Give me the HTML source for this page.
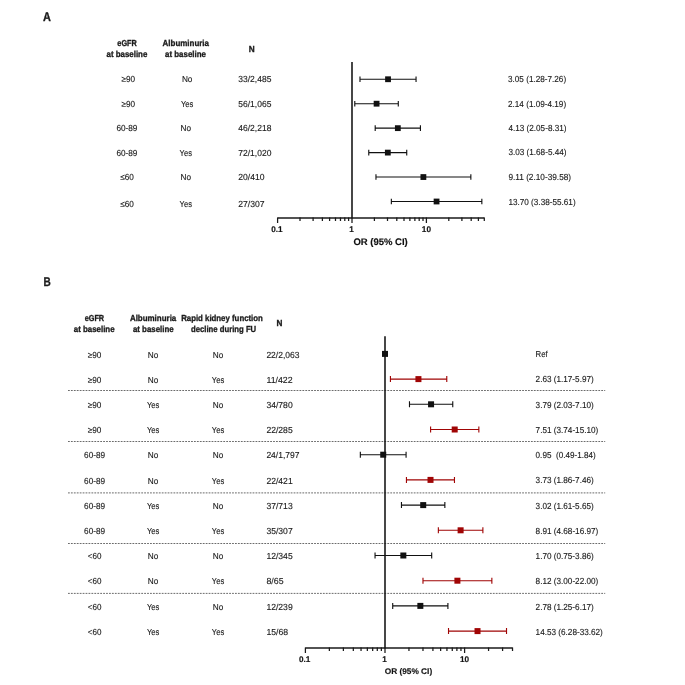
<!DOCTYPE html>
<html><head><meta charset="utf-8"><title>Forest plot</title>
<style>
html,body{margin:0;padding:0;background:#fff}
svg{display:block;font-family:"Liberation Sans",sans-serif;text-rendering:geometricPrecision}
</style></head><body>
<svg width="685" height="685" viewBox="0 0 685 685">
<rect width="685" height="685" fill="#fff"/>
<text x="43.00" y="20.60" text-anchor="start" font-size="12.61" font-weight="bold" fill="#1a1a1a" stroke="#1a1a1a" stroke-width="0.32" textLength="7.88" lengthAdjust="spacingAndGlyphs">A</text>
<text x="127.10" y="46.40" text-anchor="middle" font-size="8.73" font-weight="bold" fill="#1a1a1a" stroke="#1a1a1a" stroke-width="0.32" textLength="19.46" lengthAdjust="spacingAndGlyphs">eGFR</text>
<text x="126.90" y="56.80" text-anchor="middle" font-size="8.73" font-weight="bold" fill="#1a1a1a" stroke="#1a1a1a" stroke-width="0.32" textLength="40.79" lengthAdjust="spacingAndGlyphs">at baseline</text>
<text x="185.80" y="46.20" text-anchor="middle" font-size="8.73" font-weight="bold" fill="#1a1a1a" stroke="#1a1a1a" stroke-width="0.32" textLength="46.39" lengthAdjust="spacingAndGlyphs">Albuminuria</text>
<text x="185.50" y="56.80" text-anchor="middle" font-size="8.73" font-weight="bold" fill="#1a1a1a" stroke="#1a1a1a" stroke-width="0.32" textLength="40.79" lengthAdjust="spacingAndGlyphs">at baseline</text>
<text x="251.70" y="51.70" text-anchor="middle" font-size="8.73" font-weight="bold" fill="#1a1a1a" stroke="#1a1a1a" stroke-width="0.32" textLength="5.93" lengthAdjust="spacingAndGlyphs">N</text>
<path d="M352.0 62V218.5" stroke="#111" stroke-width="1.55" fill="none"/>
<text x="128.20" y="81.70" text-anchor="middle" font-size="8.73" fill="#1a1a1a" stroke="#1a1a1a" stroke-width="0.12" textLength="13.61" lengthAdjust="spacingAndGlyphs">≥90</text>
<text x="187.20" y="81.70" text-anchor="middle" font-size="8.73" fill="#1a1a1a" stroke="#1a1a1a" stroke-width="0.12" textLength="10.56" lengthAdjust="spacingAndGlyphs">No</text>
<text x="238.30" y="81.70" text-anchor="start" font-size="8.73" fill="#1a1a1a" stroke="#1a1a1a" stroke-width="0.12" textLength="33.10" lengthAdjust="spacingAndGlyphs">33/2,485</text>
<text x="508.00" y="81.70" text-anchor="start" font-size="8.73" fill="#1a1a1a" stroke="#1a1a1a" stroke-width="0.12" textLength="58.11" lengthAdjust="spacingAndGlyphs">3.05 (1.28-7.26)</text>
<path d="M359.98 79.25H416.05M359.98 76.45v5.6M416.05 76.45v5.6" stroke="#111" stroke-width="1.12" fill="none"/>
<rect x="385.13" y="76.35" width="5.8" height="5.8" fill="#111"/>
<text x="128.20" y="106.70" text-anchor="middle" font-size="8.73" fill="#1a1a1a" stroke="#1a1a1a" stroke-width="0.12" textLength="13.61" lengthAdjust="spacingAndGlyphs">≥90</text>
<text x="187.10" y="106.70" text-anchor="middle" font-size="8.73" fill="#1a1a1a" stroke="#1a1a1a" stroke-width="0.12" textLength="12.38" lengthAdjust="spacingAndGlyphs">Yes</text>
<text x="238.30" y="106.70" text-anchor="start" font-size="8.73" fill="#1a1a1a" stroke="#1a1a1a" stroke-width="0.12" textLength="33.10" lengthAdjust="spacingAndGlyphs">56/1,065</text>
<text x="508.00" y="106.70" text-anchor="start" font-size="8.73" fill="#1a1a1a" stroke="#1a1a1a" stroke-width="0.12" textLength="58.11" lengthAdjust="spacingAndGlyphs">2.14 (1.09-4.19)</text>
<path d="M354.78 103.70H398.29M354.78 100.90v5.6M398.29 100.90v5.6" stroke="#111" stroke-width="1.12" fill="none"/>
<rect x="373.68" y="100.80" width="5.8" height="5.8" fill="#111"/>
<text x="126.90" y="130.80" text-anchor="middle" font-size="8.73" fill="#1a1a1a" stroke="#1a1a1a" stroke-width="0.12" textLength="21.01" lengthAdjust="spacingAndGlyphs">60-89</text>
<text x="185.80" y="130.80" text-anchor="middle" font-size="8.73" fill="#1a1a1a" stroke="#1a1a1a" stroke-width="0.12" textLength="10.56" lengthAdjust="spacingAndGlyphs">No</text>
<text x="238.30" y="130.80" text-anchor="start" font-size="8.73" fill="#1a1a1a" stroke="#1a1a1a" stroke-width="0.12" textLength="33.10" lengthAdjust="spacingAndGlyphs">46/2,218</text>
<text x="508.40" y="130.90" text-anchor="start" font-size="8.73" fill="#1a1a1a" stroke="#1a1a1a" stroke-width="0.12" textLength="58.11" lengthAdjust="spacingAndGlyphs">4.13 (2.05-8.31)</text>
<path d="M375.19 128.15H420.42M375.19 125.35v5.6M420.42 125.35v5.6" stroke="#111" stroke-width="1.12" fill="none"/>
<rect x="394.93" y="125.25" width="5.8" height="5.8" fill="#111"/>
<text x="126.90" y="155.50" text-anchor="middle" font-size="8.73" fill="#1a1a1a" stroke="#1a1a1a" stroke-width="0.12" textLength="21.01" lengthAdjust="spacingAndGlyphs">60-89</text>
<text x="185.80" y="155.50" text-anchor="middle" font-size="8.73" fill="#1a1a1a" stroke="#1a1a1a" stroke-width="0.12" textLength="12.38" lengthAdjust="spacingAndGlyphs">Yes</text>
<text x="238.30" y="155.50" text-anchor="start" font-size="8.73" fill="#1a1a1a" stroke="#1a1a1a" stroke-width="0.12" textLength="33.10" lengthAdjust="spacingAndGlyphs">72/1,020</text>
<text x="508.40" y="155.10" text-anchor="start" font-size="8.73" fill="#1a1a1a" stroke="#1a1a1a" stroke-width="0.12" textLength="58.11" lengthAdjust="spacingAndGlyphs">3.03 (1.68-5.44)</text>
<path d="M368.76 152.60H406.73M368.76 149.80v5.6M406.73 149.80v5.6" stroke="#111" stroke-width="1.12" fill="none"/>
<rect x="384.92" y="149.70" width="5.8" height="5.8" fill="#111"/>
<text x="127.10" y="179.90" text-anchor="middle" font-size="8.73" fill="#1a1a1a" stroke="#1a1a1a" stroke-width="0.12" textLength="13.61" lengthAdjust="spacingAndGlyphs">≤60</text>
<text x="185.80" y="179.90" text-anchor="middle" font-size="8.73" fill="#1a1a1a" stroke="#1a1a1a" stroke-width="0.12" textLength="10.56" lengthAdjust="spacingAndGlyphs">No</text>
<text x="238.30" y="179.90" text-anchor="start" font-size="8.73" fill="#1a1a1a" stroke="#1a1a1a" stroke-width="0.12" textLength="26.29" lengthAdjust="spacingAndGlyphs">20/410</text>
<text x="508.40" y="179.70" text-anchor="start" font-size="8.73" fill="#1a1a1a" stroke="#1a1a1a" stroke-width="0.12" textLength="62.68" lengthAdjust="spacingAndGlyphs">9.11 (2.10-39.58)</text>
<path d="M375.97 177.05H470.85M375.97 174.25v5.6M470.85 174.25v5.6" stroke="#111" stroke-width="1.12" fill="none"/>
<rect x="420.49" y="174.15" width="5.8" height="5.8" fill="#111"/>
<text x="127.10" y="206.90" text-anchor="middle" font-size="8.73" fill="#1a1a1a" stroke="#1a1a1a" stroke-width="0.12" textLength="13.61" lengthAdjust="spacingAndGlyphs">≤60</text>
<text x="185.80" y="206.90" text-anchor="middle" font-size="8.73" fill="#1a1a1a" stroke="#1a1a1a" stroke-width="0.12" textLength="12.38" lengthAdjust="spacingAndGlyphs">Yes</text>
<text x="238.30" y="206.90" text-anchor="start" font-size="8.73" fill="#1a1a1a" stroke="#1a1a1a" stroke-width="0.12" textLength="26.29" lengthAdjust="spacingAndGlyphs">27/307</text>
<text x="508.40" y="205.20" text-anchor="start" font-size="8.73" fill="#1a1a1a" stroke="#1a1a1a" stroke-width="0.12" textLength="67.24" lengthAdjust="spacingAndGlyphs">13.70 (3.38-55.61)</text>
<path d="M391.35 201.50H481.84M391.35 198.70v5.6M481.84 198.70v5.6" stroke="#111" stroke-width="1.12" fill="none"/>
<rect x="433.67" y="198.60" width="5.8" height="5.8" fill="#111"/>
<path d="M277.60 218.00H484.29" stroke="#1a1a1a" stroke-width="1.3" fill="none"/>
<path d="M277.60 217.40v5.50M300.00 217.40v3.70M313.10 217.40v3.70M322.39 217.40v3.70M329.60 217.40v3.70M335.49 217.40v3.70M340.48 217.40v3.70M344.79 217.40v3.70M348.60 217.40v3.70M352.00 217.40v5.50M374.40 217.40v3.70M387.50 217.40v3.70M396.79 217.40v3.70M404.00 217.40v3.70M409.89 217.40v3.70M414.88 217.40v3.70M419.19 217.40v3.70M423.00 217.40v3.70M426.40 217.40v5.50M448.80 217.40v3.70M461.90 217.40v3.70M471.19 217.40v3.70M478.40 217.40v3.70M484.29 217.40v3.70" stroke="#1a1a1a" stroke-width="1.25" fill="none"/>
<text x="276.90" y="232.00" text-anchor="middle" font-size="8.20" font-weight="bold" fill="#111" stroke="#111" stroke-width="0.15">0.1</text>
<text x="351.60" y="232.00" text-anchor="middle" font-size="8.20" font-weight="bold" fill="#111" stroke="#111" stroke-width="0.15">1</text>
<text x="426.40" y="232.00" text-anchor="middle" font-size="8.20" font-weight="bold" fill="#111" stroke="#111" stroke-width="0.15">10</text>
<text x="353.40" y="244.60" text-anchor="start" font-size="9.50" font-weight="bold" fill="#111" stroke="#111" stroke-width="0.15">OR (95% CI)</text>
<text x="43.40" y="285.80" text-anchor="start" font-size="12.61" font-weight="bold" fill="#1a1a1a" stroke="#1a1a1a" stroke-width="0.32" textLength="7.29" lengthAdjust="spacingAndGlyphs">B</text>
<text x="94.40" y="320.90" text-anchor="middle" font-size="8.73" font-weight="bold" fill="#1a1a1a" stroke="#1a1a1a" stroke-width="0.32" textLength="19.46" lengthAdjust="spacingAndGlyphs">eGFR</text>
<text x="94.20" y="331.50" text-anchor="middle" font-size="8.73" font-weight="bold" fill="#1a1a1a" stroke="#1a1a1a" stroke-width="0.32" textLength="40.79" lengthAdjust="spacingAndGlyphs">at baseline</text>
<text x="153.10" y="320.90" text-anchor="middle" font-size="8.73" font-weight="bold" fill="#1a1a1a" stroke="#1a1a1a" stroke-width="0.32" textLength="46.39" lengthAdjust="spacingAndGlyphs">Albuminuria</text>
<text x="153.30" y="331.50" text-anchor="middle" font-size="8.73" font-weight="bold" fill="#1a1a1a" stroke="#1a1a1a" stroke-width="0.32" textLength="40.79" lengthAdjust="spacingAndGlyphs">at baseline</text>
<text x="222.00" y="320.90" text-anchor="middle" font-size="8.73" font-weight="bold" fill="#1a1a1a" stroke="#1a1a1a" stroke-width="0.32" textLength="81.73" lengthAdjust="spacingAndGlyphs">Rapid kidney function</text>
<text x="223.60" y="331.50" text-anchor="middle" font-size="8.73" font-weight="bold" fill="#1a1a1a" stroke="#1a1a1a" stroke-width="0.32" textLength="65.16" lengthAdjust="spacingAndGlyphs">decline during FU</text>
<text x="279.40" y="325.70" text-anchor="middle" font-size="8.73" font-weight="bold" fill="#1a1a1a" stroke="#1a1a1a" stroke-width="0.32" textLength="5.93" lengthAdjust="spacingAndGlyphs">N</text>
<path d="M68 390.50H605.2" stroke="#5a5a5a" stroke-width="0.9" stroke-dasharray="1.8 1.13" fill="none"/>
<path d="M68 441.50H605.2" stroke="#5a5a5a" stroke-width="0.9" stroke-dasharray="1.8 1.13" fill="none"/>
<path d="M68 492.90H605.2" stroke="#5a5a5a" stroke-width="0.9" stroke-dasharray="1.8 1.13" fill="none"/>
<path d="M68 543.50H605.2" stroke="#5a5a5a" stroke-width="0.9" stroke-dasharray="1.8 1.13" fill="none"/>
<path d="M68 593.40H605.2" stroke="#5a5a5a" stroke-width="0.9" stroke-dasharray="1.8 1.13" fill="none"/>
<path d="M385.0 336.3V648.5" stroke="#111" stroke-width="1.55" fill="none"/>
<text x="94.60" y="357.70" text-anchor="middle" font-size="8.73" fill="#1a1a1a" stroke="#1a1a1a" stroke-width="0.12" textLength="13.61" lengthAdjust="spacingAndGlyphs">≥90</text>
<text x="153.10" y="357.70" text-anchor="middle" font-size="8.73" fill="#1a1a1a" stroke="#1a1a1a" stroke-width="0.12" textLength="10.56" lengthAdjust="spacingAndGlyphs">No</text>
<text x="218.00" y="357.70" text-anchor="middle" font-size="8.73" fill="#1a1a1a" stroke="#1a1a1a" stroke-width="0.12" textLength="10.56" lengthAdjust="spacingAndGlyphs">No</text>
<text x="266.40" y="357.70" text-anchor="start" font-size="8.73" fill="#1a1a1a" stroke="#1a1a1a" stroke-width="0.12" textLength="33.10" lengthAdjust="spacingAndGlyphs">22/2,063</text>
<text x="535.60" y="357.25" text-anchor="start" font-size="8.73" fill="#1a1a1a" stroke="#1a1a1a" stroke-width="0.12" textLength="12.11" lengthAdjust="spacingAndGlyphs">Ref</text>
<rect x="382.00" y="350.90" width="6.0" height="6.0" fill="#111"/>
<text x="94.60" y="382.88" text-anchor="middle" font-size="8.73" fill="#1a1a1a" stroke="#1a1a1a" stroke-width="0.12" textLength="13.61" lengthAdjust="spacingAndGlyphs">≥90</text>
<text x="153.10" y="382.88" text-anchor="middle" font-size="8.73" fill="#1a1a1a" stroke="#1a1a1a" stroke-width="0.12" textLength="10.56" lengthAdjust="spacingAndGlyphs">No</text>
<text x="218.00" y="382.88" text-anchor="middle" font-size="8.73" fill="#1a1a1a" stroke="#1a1a1a" stroke-width="0.12" textLength="12.38" lengthAdjust="spacingAndGlyphs">Yes</text>
<text x="266.40" y="382.88" text-anchor="start" font-size="8.73" fill="#1a1a1a" stroke="#1a1a1a" stroke-width="0.12" textLength="26.29" lengthAdjust="spacingAndGlyphs">11/422</text>
<text x="535.60" y="382.49" text-anchor="start" font-size="8.73" fill="#1a1a1a" stroke="#1a1a1a" stroke-width="0.12" textLength="58.11" lengthAdjust="spacingAndGlyphs">2.63 (1.17-5.97)</text>
<path d="M390.43 379.10H446.77M390.43 376.10v6.0M446.77 376.10v6.0" stroke="#a00505" stroke-width="1.12" fill="none"/>
<rect x="415.43" y="376.10" width="6.0" height="6.0" fill="#a00505"/>
<text x="94.60" y="408.06" text-anchor="middle" font-size="8.73" fill="#1a1a1a" stroke="#1a1a1a" stroke-width="0.12" textLength="13.61" lengthAdjust="spacingAndGlyphs">≥90</text>
<text x="153.10" y="408.06" text-anchor="middle" font-size="8.73" fill="#1a1a1a" stroke="#1a1a1a" stroke-width="0.12" textLength="12.38" lengthAdjust="spacingAndGlyphs">Yes</text>
<text x="218.00" y="408.06" text-anchor="middle" font-size="8.73" fill="#1a1a1a" stroke="#1a1a1a" stroke-width="0.12" textLength="10.56" lengthAdjust="spacingAndGlyphs">No</text>
<text x="266.40" y="408.06" text-anchor="start" font-size="8.73" fill="#1a1a1a" stroke="#1a1a1a" stroke-width="0.12" textLength="26.29" lengthAdjust="spacingAndGlyphs">34/780</text>
<text x="535.60" y="407.72" text-anchor="start" font-size="8.73" fill="#1a1a1a" stroke="#1a1a1a" stroke-width="0.12" textLength="58.11" lengthAdjust="spacingAndGlyphs">3.79 (2.03-7.10)</text>
<path d="M409.48 404.30H452.76M409.48 401.30v6.0M452.76 401.30v6.0" stroke="#111" stroke-width="1.12" fill="none"/>
<rect x="428.06" y="401.30" width="6.0" height="6.0" fill="#111"/>
<text x="94.60" y="433.24" text-anchor="middle" font-size="8.73" fill="#1a1a1a" stroke="#1a1a1a" stroke-width="0.12" textLength="13.61" lengthAdjust="spacingAndGlyphs">≥90</text>
<text x="153.10" y="433.24" text-anchor="middle" font-size="8.73" fill="#1a1a1a" stroke="#1a1a1a" stroke-width="0.12" textLength="12.38" lengthAdjust="spacingAndGlyphs">Yes</text>
<text x="218.00" y="433.24" text-anchor="middle" font-size="8.73" fill="#1a1a1a" stroke="#1a1a1a" stroke-width="0.12" textLength="12.38" lengthAdjust="spacingAndGlyphs">Yes</text>
<text x="266.40" y="433.24" text-anchor="start" font-size="8.73" fill="#1a1a1a" stroke="#1a1a1a" stroke-width="0.12" textLength="26.29" lengthAdjust="spacingAndGlyphs">22/285</text>
<text x="535.60" y="432.95" text-anchor="start" font-size="8.73" fill="#1a1a1a" stroke="#1a1a1a" stroke-width="0.12" textLength="62.68" lengthAdjust="spacingAndGlyphs">7.51 (3.74-15.10)</text>
<path d="M430.60 429.50H478.85M430.60 426.50v6.0M478.85 426.50v6.0" stroke="#a00505" stroke-width="1.12" fill="none"/>
<rect x="451.70" y="426.50" width="6.0" height="6.0" fill="#a00505"/>
<text x="94.60" y="458.42" text-anchor="middle" font-size="8.73" fill="#1a1a1a" stroke="#1a1a1a" stroke-width="0.12" textLength="21.01" lengthAdjust="spacingAndGlyphs">60-89</text>
<text x="153.10" y="458.42" text-anchor="middle" font-size="8.73" fill="#1a1a1a" stroke="#1a1a1a" stroke-width="0.12" textLength="10.56" lengthAdjust="spacingAndGlyphs">No</text>
<text x="218.00" y="458.42" text-anchor="middle" font-size="8.73" fill="#1a1a1a" stroke="#1a1a1a" stroke-width="0.12" textLength="10.56" lengthAdjust="spacingAndGlyphs">No</text>
<text x="266.40" y="458.42" text-anchor="start" font-size="8.73" fill="#1a1a1a" stroke="#1a1a1a" stroke-width="0.12" textLength="33.10" lengthAdjust="spacingAndGlyphs">24/1,797</text>
<text x="535.60" y="458.19" text-anchor="start" font-size="8.73" fill="#1a1a1a" stroke="#1a1a1a" stroke-width="0.12" textLength="60.15" lengthAdjust="spacingAndGlyphs">0.95  (0.49-1.84)</text>
<path d="M360.34 454.70H406.08M360.34 451.70v6.0M406.08 451.70v6.0" stroke="#111" stroke-width="1.12" fill="none"/>
<rect x="380.23" y="451.70" width="6.0" height="6.0" fill="#111"/>
<text x="94.60" y="483.60" text-anchor="middle" font-size="8.73" fill="#1a1a1a" stroke="#1a1a1a" stroke-width="0.12" textLength="21.01" lengthAdjust="spacingAndGlyphs">60-89</text>
<text x="153.10" y="483.60" text-anchor="middle" font-size="8.73" fill="#1a1a1a" stroke="#1a1a1a" stroke-width="0.12" textLength="10.56" lengthAdjust="spacingAndGlyphs">No</text>
<text x="218.00" y="483.60" text-anchor="middle" font-size="8.73" fill="#1a1a1a" stroke="#1a1a1a" stroke-width="0.12" textLength="12.38" lengthAdjust="spacingAndGlyphs">Yes</text>
<text x="266.40" y="483.60" text-anchor="start" font-size="8.73" fill="#1a1a1a" stroke="#1a1a1a" stroke-width="0.12" textLength="26.29" lengthAdjust="spacingAndGlyphs">22/421</text>
<text x="535.60" y="483.43" text-anchor="start" font-size="8.73" fill="#1a1a1a" stroke="#1a1a1a" stroke-width="0.12" textLength="58.11" lengthAdjust="spacingAndGlyphs">3.73 (1.86-7.46)</text>
<path d="M406.45 479.90H454.47M406.45 476.90v6.0M454.47 476.90v6.0" stroke="#a00505" stroke-width="1.12" fill="none"/>
<rect x="427.51" y="476.90" width="6.0" height="6.0" fill="#a00505"/>
<text x="94.60" y="508.78" text-anchor="middle" font-size="8.73" fill="#1a1a1a" stroke="#1a1a1a" stroke-width="0.12" textLength="21.01" lengthAdjust="spacingAndGlyphs">60-89</text>
<text x="153.10" y="508.78" text-anchor="middle" font-size="8.73" fill="#1a1a1a" stroke="#1a1a1a" stroke-width="0.12" textLength="12.38" lengthAdjust="spacingAndGlyphs">Yes</text>
<text x="218.00" y="508.78" text-anchor="middle" font-size="8.73" fill="#1a1a1a" stroke="#1a1a1a" stroke-width="0.12" textLength="10.56" lengthAdjust="spacingAndGlyphs">No</text>
<text x="266.40" y="508.78" text-anchor="start" font-size="8.73" fill="#1a1a1a" stroke="#1a1a1a" stroke-width="0.12" textLength="26.29" lengthAdjust="spacingAndGlyphs">37/713</text>
<text x="535.60" y="508.66" text-anchor="start" font-size="8.73" fill="#1a1a1a" stroke="#1a1a1a" stroke-width="0.12" textLength="58.11" lengthAdjust="spacingAndGlyphs">3.02 (1.61-5.65)</text>
<path d="M401.46 505.10H444.86M401.46 502.10v6.0M444.86 502.10v6.0" stroke="#111" stroke-width="1.12" fill="none"/>
<rect x="420.21" y="502.10" width="6.0" height="6.0" fill="#111"/>
<text x="94.60" y="533.96" text-anchor="middle" font-size="8.73" fill="#1a1a1a" stroke="#1a1a1a" stroke-width="0.12" textLength="21.01" lengthAdjust="spacingAndGlyphs">60-89</text>
<text x="153.10" y="533.96" text-anchor="middle" font-size="8.73" fill="#1a1a1a" stroke="#1a1a1a" stroke-width="0.12" textLength="12.38" lengthAdjust="spacingAndGlyphs">Yes</text>
<text x="218.00" y="533.96" text-anchor="middle" font-size="8.73" fill="#1a1a1a" stroke="#1a1a1a" stroke-width="0.12" textLength="12.38" lengthAdjust="spacingAndGlyphs">Yes</text>
<text x="266.40" y="533.96" text-anchor="start" font-size="8.73" fill="#1a1a1a" stroke="#1a1a1a" stroke-width="0.12" textLength="26.29" lengthAdjust="spacingAndGlyphs">35/307</text>
<text x="535.60" y="533.89" text-anchor="start" font-size="8.73" fill="#1a1a1a" stroke="#1a1a1a" stroke-width="0.12" textLength="62.68" lengthAdjust="spacingAndGlyphs">8.91 (4.68-16.97)</text>
<path d="M438.35 530.30H482.88M438.35 527.30v6.0M482.88 527.30v6.0" stroke="#a00505" stroke-width="1.12" fill="none"/>
<rect x="457.61" y="527.30" width="6.0" height="6.0" fill="#a00505"/>
<text x="94.60" y="559.14" text-anchor="middle" font-size="8.73" fill="#1a1a1a" stroke="#1a1a1a" stroke-width="0.12" textLength="13.61" lengthAdjust="spacingAndGlyphs">&lt;60</text>
<text x="153.10" y="559.14" text-anchor="middle" font-size="8.73" fill="#1a1a1a" stroke="#1a1a1a" stroke-width="0.12" textLength="10.56" lengthAdjust="spacingAndGlyphs">No</text>
<text x="218.00" y="559.14" text-anchor="middle" font-size="8.73" fill="#1a1a1a" stroke="#1a1a1a" stroke-width="0.12" textLength="10.56" lengthAdjust="spacingAndGlyphs">No</text>
<text x="266.40" y="559.14" text-anchor="start" font-size="8.73" fill="#1a1a1a" stroke="#1a1a1a" stroke-width="0.12" textLength="26.29" lengthAdjust="spacingAndGlyphs">12/345</text>
<text x="535.60" y="559.13" text-anchor="start" font-size="8.73" fill="#1a1a1a" stroke="#1a1a1a" stroke-width="0.12" textLength="58.11" lengthAdjust="spacingAndGlyphs">1.70 (0.75-3.86)</text>
<path d="M375.05 555.50H431.69M375.05 552.50v6.0M431.69 552.50v6.0" stroke="#111" stroke-width="1.12" fill="none"/>
<rect x="400.34" y="552.50" width="6.0" height="6.0" fill="#111"/>
<text x="94.60" y="584.32" text-anchor="middle" font-size="8.73" fill="#1a1a1a" stroke="#1a1a1a" stroke-width="0.12" textLength="13.61" lengthAdjust="spacingAndGlyphs">&lt;60</text>
<text x="153.10" y="584.32" text-anchor="middle" font-size="8.73" fill="#1a1a1a" stroke="#1a1a1a" stroke-width="0.12" textLength="10.56" lengthAdjust="spacingAndGlyphs">No</text>
<text x="218.00" y="584.32" text-anchor="middle" font-size="8.73" fill="#1a1a1a" stroke="#1a1a1a" stroke-width="0.12" textLength="12.38" lengthAdjust="spacingAndGlyphs">Yes</text>
<text x="266.40" y="584.32" text-anchor="start" font-size="8.73" fill="#1a1a1a" stroke="#1a1a1a" stroke-width="0.12" textLength="17.16" lengthAdjust="spacingAndGlyphs">8/65</text>
<text x="535.60" y="584.37" text-anchor="start" font-size="8.73" fill="#1a1a1a" stroke="#1a1a1a" stroke-width="0.12" textLength="62.68" lengthAdjust="spacingAndGlyphs">8.12 (3.00-22.00)</text>
<path d="M422.98 580.70H491.86M422.98 577.70v6.0M491.86 577.70v6.0" stroke="#a00505" stroke-width="1.12" fill="none"/>
<rect x="454.40" y="577.70" width="6.0" height="6.0" fill="#a00505"/>
<text x="94.60" y="609.50" text-anchor="middle" font-size="8.73" fill="#1a1a1a" stroke="#1a1a1a" stroke-width="0.12" textLength="13.61" lengthAdjust="spacingAndGlyphs">&lt;60</text>
<text x="153.10" y="609.50" text-anchor="middle" font-size="8.73" fill="#1a1a1a" stroke="#1a1a1a" stroke-width="0.12" textLength="12.38" lengthAdjust="spacingAndGlyphs">Yes</text>
<text x="218.00" y="609.50" text-anchor="middle" font-size="8.73" fill="#1a1a1a" stroke="#1a1a1a" stroke-width="0.12" textLength="10.56" lengthAdjust="spacingAndGlyphs">No</text>
<text x="266.40" y="609.50" text-anchor="start" font-size="8.73" fill="#1a1a1a" stroke="#1a1a1a" stroke-width="0.12" textLength="26.29" lengthAdjust="spacingAndGlyphs">12/239</text>
<text x="535.60" y="609.60" text-anchor="start" font-size="8.73" fill="#1a1a1a" stroke="#1a1a1a" stroke-width="0.12" textLength="58.11" lengthAdjust="spacingAndGlyphs">2.78 (1.25-6.17)</text>
<path d="M392.71 605.90H447.91M392.71 602.90v6.0M447.91 602.90v6.0" stroke="#111" stroke-width="1.12" fill="none"/>
<rect x="417.35" y="602.90" width="6.0" height="6.0" fill="#111"/>
<text x="94.60" y="634.68" text-anchor="middle" font-size="8.73" fill="#1a1a1a" stroke="#1a1a1a" stroke-width="0.12" textLength="13.61" lengthAdjust="spacingAndGlyphs">&lt;60</text>
<text x="153.10" y="634.68" text-anchor="middle" font-size="8.73" fill="#1a1a1a" stroke="#1a1a1a" stroke-width="0.12" textLength="12.38" lengthAdjust="spacingAndGlyphs">Yes</text>
<text x="218.00" y="634.68" text-anchor="middle" font-size="8.73" fill="#1a1a1a" stroke="#1a1a1a" stroke-width="0.12" textLength="12.38" lengthAdjust="spacingAndGlyphs">Yes</text>
<text x="266.40" y="634.68" text-anchor="start" font-size="8.73" fill="#1a1a1a" stroke="#1a1a1a" stroke-width="0.12" textLength="21.73" lengthAdjust="spacingAndGlyphs">15/68</text>
<text x="535.60" y="634.84" text-anchor="start" font-size="8.73" fill="#1a1a1a" stroke="#1a1a1a" stroke-width="0.12" textLength="67.24" lengthAdjust="spacingAndGlyphs">14.53 (6.28-33.62)</text>
<path d="M448.52 631.10H506.52M448.52 628.10v6.0M506.52 628.10v6.0" stroke="#a00505" stroke-width="1.12" fill="none"/>
<rect x="474.52" y="628.10" width="6.0" height="6.0" fill="#a00505"/>
<path d="M305.40 648.00H512.52" stroke="#1a1a1a" stroke-width="1.3" fill="none"/>
<path d="M305.40 647.40v5.50M329.36 647.40v3.70M343.38 647.40v3.70M353.32 647.40v3.70M361.04 647.40v3.70M367.34 647.40v3.70M372.67 647.40v3.70M377.29 647.40v3.70M381.36 647.40v3.70M385.00 647.40v5.50M408.96 647.40v3.70M422.98 647.40v3.70M432.92 647.40v3.70M440.64 647.40v3.70M446.94 647.40v3.70M452.27 647.40v3.70M456.89 647.40v3.70M460.96 647.40v3.70M464.60 647.40v5.50M488.56 647.40v3.70M502.58 647.40v3.70M512.52 647.40v3.70" stroke="#1a1a1a" stroke-width="1.25" fill="none"/>
<text x="304.70" y="662.20" text-anchor="middle" font-size="8.20" font-weight="bold" fill="#111" stroke="#111" stroke-width="0.15">0.1</text>
<text x="384.60" y="662.20" text-anchor="middle" font-size="8.20" font-weight="bold" fill="#111" stroke="#111" stroke-width="0.15">1</text>
<text x="464.60" y="662.20" text-anchor="middle" font-size="8.20" font-weight="bold" fill="#111" stroke="#111" stroke-width="0.15">10</text>
<text x="384.70" y="674.00" text-anchor="start" font-size="8.30" font-weight="bold" fill="#111" stroke="#111" stroke-width="0.15">OR (95% CI)</text>
</svg>
</body></html>
